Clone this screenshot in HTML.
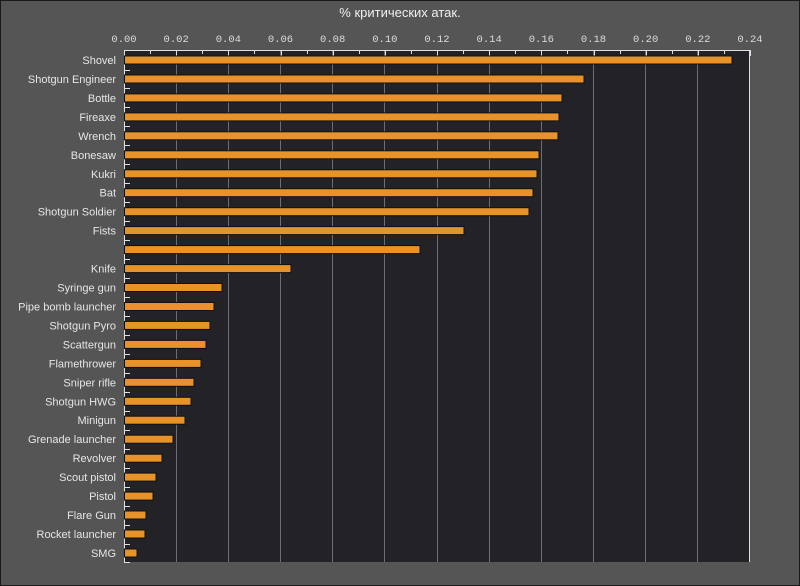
<!DOCTYPE html>
<html><head><meta charset="utf-8"><style>
html,body{margin:0;padding:0;background:#555;}
svg{display:block;font-family:"Liberation Sans","DejaVu Sans",sans-serif;}
</style></head><body>
<svg width="800" height="586" viewBox="0 0 800 586" xmlns="http://www.w3.org/2000/svg">
<rect x="0.5" y="0.5" width="799" height="585" fill="#555555" stroke="#1a1a1a"/>
<text x="400" y="17" fill="#f0f0f0" font-size="13" text-anchor="middle">% критических атак.</text>
<rect x="124" y="50" width="626" height="512" fill="#232327"/>
<g stroke="#6e6e72" stroke-width="1">
<line x1="176.5" y1="50" x2="176.5" y2="562"/><line x1="228.5" y1="50" x2="228.5" y2="562"/>
<line x1="280.5" y1="50" x2="280.5" y2="562"/><line x1="332.5" y1="50" x2="332.5" y2="562"/>
<line x1="384.5" y1="50" x2="384.5" y2="562"/><line x1="437.5" y1="50" x2="437.5" y2="562"/>
<line x1="489.5" y1="50" x2="489.5" y2="562"/><line x1="541.5" y1="50" x2="541.5" y2="562"/>
<line x1="593.5" y1="50" x2="593.5" y2="562"/><line x1="645.5" y1="50" x2="645.5" y2="562"/>
<line x1="697.5" y1="50" x2="697.5" y2="562"/>
</g>
<g stroke="#e0e0e0" stroke-width="1">
<line x1="124" y1="50.5" x2="750" y2="50.5"/>
<line x1="124.5" y1="50" x2="124.5" y2="562"/>
<line x1="749.5" y1="50" x2="749.5" y2="562"/>
</g>
<g id="ticks" stroke="#e0e0e0"></g>
<g id="bars"></g>
<g id="labels" fill="#e6e6e6" font-size="11" text-anchor="end"></g>
<g id="xl" fill="#dcdcdc" font-size="10.5" font-family="Liberation Mono, monospace" text-anchor="middle"></g>
</svg>
<script>
var ns="http://www.w3.org/2000/svg";
function el(t,a,p,txt){var e=document.createElementNS(ns,t);for(var k in a)e.setAttribute(k,a[k]);if(txt!=null)e.textContent=txt;document.getElementById(p).appendChild(e);}
var d=[["Shovel",732],["Shotgun Engineer",584],["Bottle",562],["Fireaxe",559],["Wrench",558],["Bonesaw",539],["Kukri",537],["Bat",533],["Shotgun Soldier",529],["Fists",464],["",420],["Knife",291],["Syringe gun",222],["Pipe bomb launcher",214],["Shotgun Pyro",210],["Scattergun",206],["Flamethrower",201],["Sniper rifle",194],["Shotgun HWG",191],["Minigun",185],["Grenade launcher",173],["Revolver",162],["Scout pistol",156],["Pistol",153],["Flare Gun",146],["Rocket launcher",145],["SMG",137]];
var s=626/0.24;
for(var i=0;i<=24;i++){var x=Math.round(124+i*0.01*s)+0.5;el("line",{x1:x,y1:50,x2:x,y2:i%2?54:56},"ticks");}
for(var i=0;i<=12;i++){el("text",{x:124+i*0.02*s,y:42},"xl",(i*0.02).toFixed(2));}
for(var i=0;i<d.length;i++){var c=60+i*18.96;
el("rect",{x:124.5,y:(c-4).toFixed(1),width:d[i][1]-124.5,height:8,fill:"#e8922a",stroke:"#111",'stroke-width':1},"bars");
el("text",{x:116,y:(c+4).toFixed(1)},"labels",d[i][0]);
var ty=Math.round(c+9.5)+0.5;el("line",{x1:124,y1:ty,x2:130,y2:ty},"ticks");}
</script>
</body></html>
